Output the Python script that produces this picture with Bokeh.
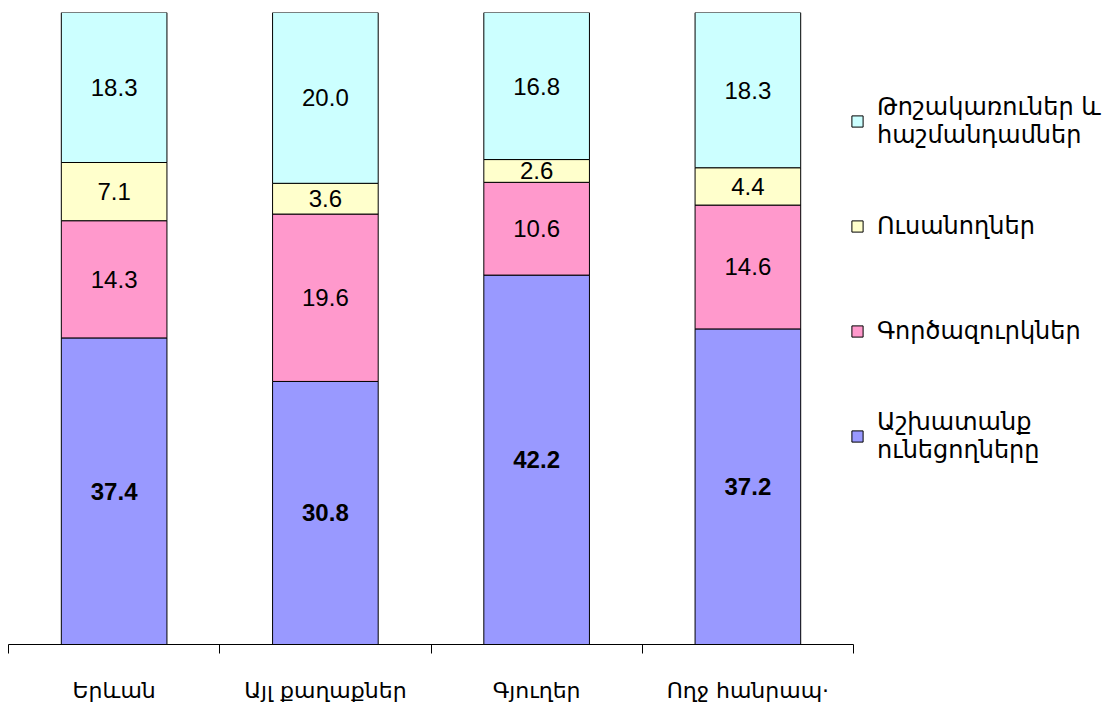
from bokeh.plotting import figure
from bokeh.models import ColumnDataSource, Range1d, FixedTicker, Legend, LegendItem
from bokeh.core.properties import value
from bokeh.embed import file_html
from bokeh.resources import INLINE

# ---------------- data ----------------
categories = ["Երևան", "Այլ քաղաքներ", "Գյուղեր", "Ողջ հանրապ·"]
series_names = ["Աշխատանք\nունեցողները", "Գործազուրկներ", "Ուսանողներ",
                "Թոշակառուներ և\nհաշմանդամներ"]
employed = [37.4, 30.8, 42.2, 37.2]
unemployed = [14.3, 19.6, 10.6, 14.6]
students = [7.1, 3.6, 2.6, 4.4]
pensioners = [18.3, 20.0, 16.8, 18.3]
colors = ["#9999FF", "#FF99CC", "#FFFFCC", "#CCFFFF"]

series = [employed, unemployed, students, pensioners]
n = len(categories)
xs = list(range(n))
totals = [sum(s[i] for s in series) for i in range(n)]

# ---------------- figure ----------------
W, H = 1112, 705
LEFT = 8
p = figure(width=W, height=H, output_backend="svg", toolbar_location=None,
           x_range=Range1d(-0.5, -0.5 + (W - LEFT) / 211.25), y_range=Range1d(0, 100),
           min_border_left=LEFT, min_border_right=0, min_border_top=12,
           min_border_bottom=55)
p.outline_line_color = None
p.grid.visible = False
p.yaxis.visible = False
p.background_fill_color = "white"

FONT_NUM = value("Liberation Sans")
FONT_ARM = "DejaVu Sans"

renderers = []
bottoms = [0.0] * n
for k, s in enumerate(series):
    pct = [s[i] / totals[i] * 100 for i in range(n)]
    tops = [bottoms[i] + pct[i] for i in range(n)]
    mids = [(bottoms[i] + tops[i]) / 2 for i in range(n)]
    src = ColumnDataSource(dict(x=xs, bottom=bottoms, top=tops, mid=mids,
                                lab=[f"{v:.1f}" for v in s]))
    r = p.vbar(x="x", bottom="bottom", top="top", width=0.5, source=src,
               fill_color=colors[k], line_color="black", line_width=1)
    renderers.append(r)
    p.text(x="x", y="mid", text="lab", source=src, text_align="center",
           text_baseline="middle", text_font=FONT_NUM, text_font_size="24px",
           text_font_style="bold" if k == 0 else "normal", text_color="black")
    bottoms = tops

# ---------------- axis ----------------
ax = p.xaxis[0]
ax.bounds = (-0.5, n - 0.5)
ax.ticker = FixedTicker(ticks=xs, minor_ticks=[i - 0.5 for i in range(n + 1)])
ax.major_label_overrides = {i: c for i, c in enumerate(categories)}
ax.major_tick_out = 0
ax.major_tick_in = 0
ax.minor_tick_out = 9
ax.minor_tick_in = 0
ax.minor_tick_line_color = "black"
ax.axis_line_color = "black"
ax.major_label_standoff = 24
ax.major_label_text_font = FONT_ARM
ax.major_label_text_font_size = "22px"
ax.major_label_text_color = "black"

# ---------------- legend ----------------
items = [LegendItem(label=series_names[k], renderers=[renderers[k]])
         for k in [3, 2, 1, 0]]
legend = Legend(items=items, location=(842, 168), padding=0, margin=0,
                border_line_color=None, background_fill_alpha=0,
                glyph_width=14, glyph_height=14, label_standoff=13,
                label_text_font=FONT_ARM, label_text_font_size="24px",
                label_text_line_height=1.55,
                label_text_color="black", spacing=25, label_height=80)
p.add_layout(legend, "center")

open("out.html", "w").write(file_html(p, INLINE))
